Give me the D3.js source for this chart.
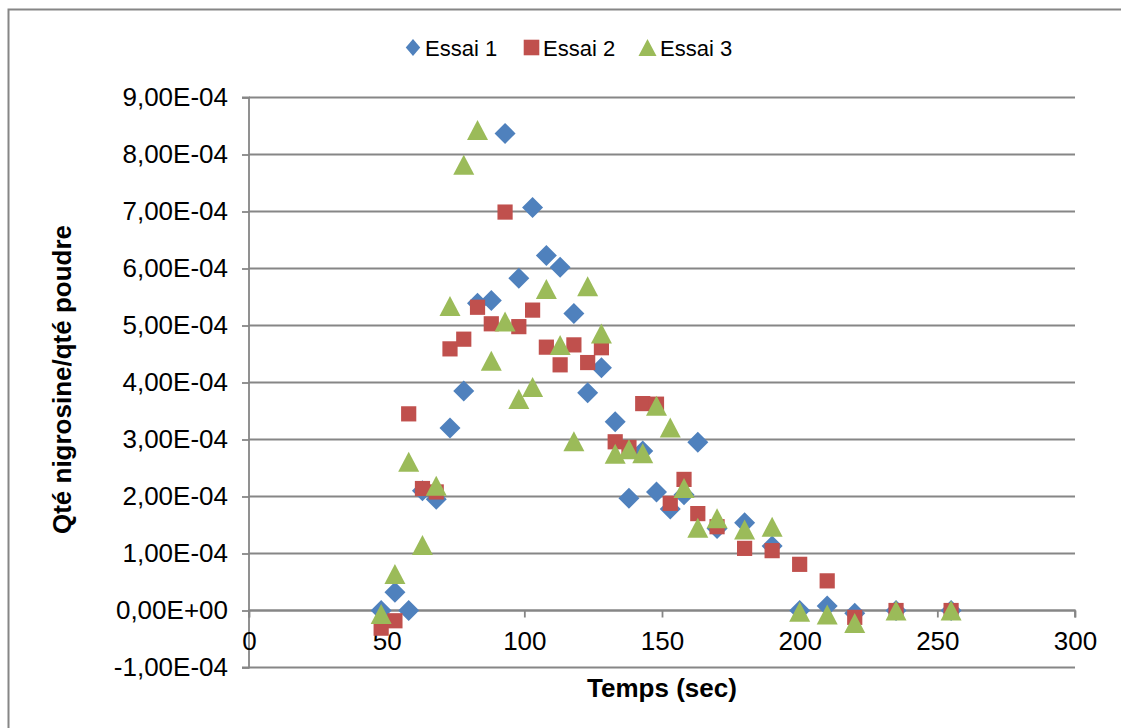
<!DOCTYPE html>
<html><head><meta charset="utf-8">
<script src="https://cdn.jsdelivr.net/npm/d3@7"></script>
<style>
html,body{margin:0;padding:0;background:#fff;}
svg{display:block;font-family:"Liberation Sans",Arial,sans-serif;}
</style></head>
<body>
<svg id="chart" width="1121" height="728"></svg>
<script>
const times = [48,53,58,63,68,73,78,83,88,93,98,103,108,113,118,123,128,133,138,143,148,153,158,163,170,180,190,200,210,220,235,255];
const essai1 = [0,3.2e-5,0,2.1e-4,1.95e-4,3.2e-4,3.85e-4,5.39e-4,5.44e-4,8.37e-4,5.83e-4,7.07e-4,6.23e-4,6.02e-4,5.21e-4,3.82e-4,4.26e-4,3.31e-4,1.97e-4,2.8e-4,2.08e-4,1.78e-4,2.03e-4,2.95e-4,1.44e-4,1.54e-4,1.13e-4,0,0.8e-5,-0.5e-5,0,0];
const essai2 = [-3.1e-5,-1.8e-5,3.45e-4,2.14e-4,2.08e-4,4.59e-4,4.76e-4,5.32e-4,5.03e-4,6.99e-4,4.98e-4,5.27e-4,4.62e-4,4.31e-4,4.66e-4,4.35e-4,4.61e-4,2.96e-4,2.86e-4,3.63e-4,3.62e-4,1.88e-4,2.3e-4,1.7e-4,1.47e-4,1.09e-4,1.05e-4,0.81e-4,0.52e-4,-1.2e-5,0,0];
const essai3 = [-0.6e-5,6.4e-5,2.61e-4,1.15e-4,2.19e-4,5.34e-4,7.82e-4,8.43e-4,4.38e-4,5.07e-4,3.71e-4,3.92e-4,5.64e-4,4.66e-4,2.97e-4,5.69e-4,4.86e-4,2.75e-4,2.83e-4,2.76e-4,3.59e-4,3.21e-4,2.15e-4,1.45e-4,1.62e-4,1.42e-4,1.47e-4,-0.2e-5,-0.7e-5,-2.2e-5,0,0];
const seriesNames = ["Essai 1","Essai 2","Essai 3"];
const seriesColors = ["#4F81BD","#C0504D","#9BBB59"];
const seriesShapes = ["diamond","square","triangle"];
const xTicks = [0,50,100,150,200,250,300];
const yTicks = [-1e-4,0,1e-4,2e-4,3e-4,4e-4,5e-4,6e-4,7e-4,8e-4,9e-4];
const xTitle = "Temps (sec)";
const yTitle = "Qté nigrosine/qté poudre";

const svg = d3.select("#chart");
const L = 249, R = 1075, T = 97.5, B = 667.5;
const x = d3.scaleLinear().domain([0,300]).range([L,R]);
const y = d3.scaleLinear().domain([-1e-4,9e-4]).range([B,T]);
const gray = "#868686";

function fmt(v){
  let s = v.toExponential(2); // e.g. 9.00e-4
  let [m,e] = s.split("e");
  let sign = e[0]==="-" ? "-" : "+";
  let n = Math.abs(parseInt(e,10));
  if (Math.abs(v) < 1e-12) { m = "0.00"; sign="+"; n=0; }
  return m.replace(".",",") + "E" + sign + String(n).padStart(2,"0");
}

// outer border
svg.append("rect").attr("x",8.5).attr("y",9.5).attr("width",1130).attr("height",740)
  .attr("fill","none").attr("stroke",gray).attr("stroke-width",2);

// gridlines
svg.append("g").selectAll("line").data(yTicks).join("line")
  .attr("x1",L).attr("x2",R).attr("y1",d=>y(d)).attr("y2",d=>y(d))
  .attr("stroke",gray).attr("stroke-width",1.8);

// y axis
const yAxis = d3.axisLeft(y).tickValues(yTicks).tickSize(7).tickPadding(14).tickFormat(fmt);
const gy = svg.append("g").attr("transform",`translate(${L},0)`).call(yAxis);
gy.select(".domain").attr("stroke",gray).attr("stroke-width",1.8).attr("d",`M-7,${T}H0V${B}H-7`);
gy.selectAll(".tick line").attr("stroke",gray).attr("stroke-width",1.8);
gy.selectAll(".tick text").attr("font-size",26).attr("fill","#000").attr("font-family","Liberation Sans, Arial, sans-serif");

// x axis at y=0
const xAxis = d3.axisBottom(x).tickValues(xTicks).tickSize(7).tickPadding(14);
const gx = svg.append("g").attr("transform",`translate(0,${y(0)})`).call(xAxis);
gx.select(".domain").attr("stroke",gray).attr("stroke-width",1.8).attr("d",`M${L},7V0H${R}V7`);
gx.selectAll(".tick line").attr("stroke",gray).attr("stroke-width",1.8);
gx.selectAll(".tick text").attr("font-size",26).attr("fill","#000").attr("font-family","Liberation Sans, Arial, sans-serif");

// markers
function shapePath(shape, cx, cy){
  if(shape==="diamond"){ const r=10.5; return `M${cx},${cy-r}L${cx+r},${cy}L${cx},${cy+r}L${cx-r},${cy}Z`; }
  if(shape==="square"){ const h=7.6; return `M${cx-h},${cy-h}H${cx+h}V${cy+h}H${cx-h}Z`; }
  const w=10.5, hh=10; return `M${cx},${cy-hh}L${cx+w},${cy+hh}L${cx-w},${cy+hh}Z`;
}
function legendShape(shape, cx, cy){
  if(shape==="diamond"){ const r=8.5; return `M${cx},${cy-r}L${cx+r*0.85},${cy}L${cx},${cy+r}L${cx-r*0.85},${cy}Z`; }
  if(shape==="square"){ const h=7.8; return `M${cx-h},${cy-h}H${cx+h}V${cy+h}H${cx-h}Z`; }
  const w=9, hh=8.5; return `M${cx},${cy-hh}L${cx+w},${cy+hh}L${cx-w},${cy+hh}Z`;
}
const allSeries = [essai1, essai2, essai3];
allSeries.forEach((vals,i)=>{
  svg.append("g").selectAll("path").data(times.map((t,j)=>({t, v: vals[j]}))).join("path")
    .attr("d",d=>shapePath(seriesShapes[i], x(d.t), y(d.v)))
    .attr("fill",seriesColors[i]);
});

// legend
const legendX = [413, 531.5, 647.5];
const legendTextX = [425, 543, 660];
const lg = svg.append("g");
seriesNames.forEach((n,i)=>{
  lg.append("path").attr("d",legendShape(seriesShapes[i], legendX[i], 47.5)).attr("fill",seriesColors[i]);
  lg.append("text").attr("x",legendTextX[i]).attr("y",48).attr("dy","0.35em")
    .attr("font-size",22).attr("fill","#000").text(n);
});

// axis titles
svg.append("text").attr("x",(L+R)/2).attr("y",688).attr("dy","0.35em").attr("text-anchor","middle")
  .attr("font-size",26).attr("font-weight","bold").attr("fill","#000").text(xTitle);
svg.append("text").attr("transform",`translate(62,${(T+B)/2-3}) rotate(-90)`).attr("dy","0.35em").attr("text-anchor","middle")
  .attr("font-size",26).attr("font-weight","bold").attr("fill","#000").text(yTitle);
</script>
</body></html>
